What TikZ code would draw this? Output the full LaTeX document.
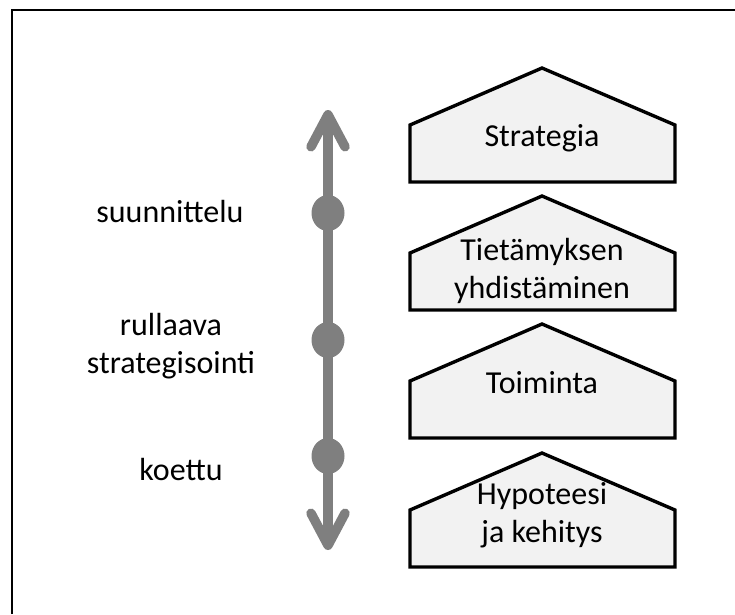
\documentclass[tikz,border=0pt]{standalone}
\usepackage{fontspec}
\setmainfont{Carlito}
\usetikzlibrary{arrows.meta,shapes.geometric}
\definecolor{axisgray}{HTML}{7F7F7F}
\definecolor{housefill}{HTML}{F2F2F2}

\begin{document}
\begin{tikzpicture}[x=1pt,y=-1pt,
  house/.style={draw=black, fill=housefill, line width=3.4pt, line join=miter},
  txt/.style={font=\fontsize{32}{37.5}\selectfont, align=center, anchor=base, inner sep=0pt},
  dot/.style={ellipse, fill=axisgray, minimum width=33pt, minimum height=36pt, inner sep=0pt},
  axis/.style={draw=axisgray, line width=9.5pt, line cap=round,
    {Straight Barb[length=32pt, width=34pt, round]}-{Straight Barb[length=32pt, width=34pt, round]}}
]
\useasboundingbox (0,0) rectangle (735,614);

% open frame along the top and left edges
\draw[line width=2.8pt] (12,614) |- (735,10);

% house-shaped boxes
\foreach \top in {68,196,324,453}{
  \draw[house] (410,{\top+57}) -- (542,\top) -- (675,{\top+57})
    -- (675,{\top+114}) -- (410,{\top+114}) -- cycle;
}

% multi-line labels are anchored at the baseline of their last line
\node[txt] (strategia) at (542,146) {Strategia};
\node[txt] (tieto) at (542,298) {Tietämyksen\\yhdistäminen};
\node[txt] (toiminta) at (542,393) {Toiminta};
\node[txt] (hypo) at (542,542) {Hypoteesi\\ja kehitys};

% vertical two-way axis with its three stages
\coordinate (axistop) at (328,110);
\coordinate (axisbot) at (328,550);
\draw[axis] (axisbot) -- (axistop);
\node[dot] (d1) at (328,213) {};
\node[dot] (d2) at (328,340) {};
\node[dot] (d3) at (328,456) {};

\node[txt] (suun) at (170,222) {suunnittelu};
\node[txt] (rull) at (171,373) {rullaava\\strategisointi};
\node[txt] (koe) at (181,480) {koettu};
\end{tikzpicture}
\end{document}
